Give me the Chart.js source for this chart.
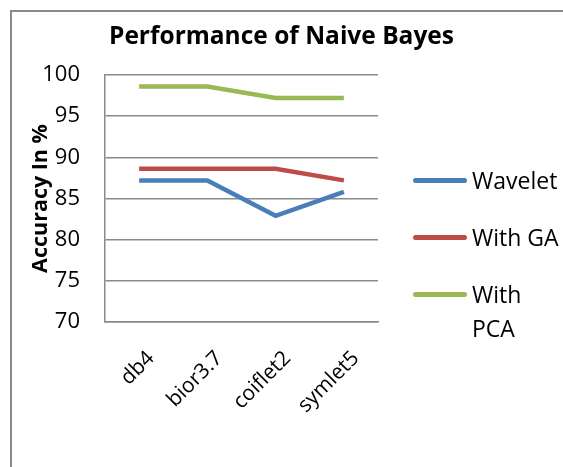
<!DOCTYPE html>
<html>
<head>
<meta charset="utf-8">
<script src="https://cdn.jsdelivr.net/npm/chart.js@4"></script>
<style>
  html, body { margin: 0; padding: 0; background: #fff; }
  #wrap { position: relative; width: 563px; height: 467px; overflow: hidden; font-family: "Open Sans", sans-serif; }
  #frame { position: absolute; left: 10px; top: 10px; width: 600px; height: 500px; border-left: 2px solid #8a8a8a; border-top: 2px solid #8a8a8a; }
  #chart { position: absolute; left: 0; top: 0; }
  #legend { position: absolute; left: 413px; top: 0; }
  .item { position: absolute; left: 0; width: 160px; }
  .swatch { position: absolute; left: 0; width: 54px; height: 5px; border-radius: 3px; }
  .label { position: absolute; left: 59px; font-size: 23px; line-height: 34px; color: #000; white-space: nowrap; }
</style>
</head>
<body>
<div id="wrap">
  <div id="frame"></div>
  <canvas id="chart" width="563" height="467"></canvas>
  <div id="legend"></div>
</div>
<script>
  // data
  const categories = ["db4", "bior3.7", "coiflet2", "symlet5"];
  const wavelet = [87.2, 87.2, 82.9, 85.8];
  const withGA = [88.6, 88.6, 88.6, 87.2];
  const withPCA = [98.6, 98.6, 97.2, 97.2];
  const seriesNames = ["Wavelet", "With GA", ["With", "PCA"]];
  const seriesColors = ["#4a7ebb", "#be4b48", "#98b954"];
  const yTicks = [70, 75, 80, 85, 90, 95, 100];

  const legendY = [180, 237, 294];

  function makeDataset(i, values) {
    return {
      label: [].concat(seriesNames[i]).join(" "),
      data: values,
      borderColor: seriesColors[i],
      backgroundColor: seriesColors[i],
      borderWidth: 4.5,
      pointRadius: 0,
      tension: 0,
      fill: false,
    };
  }

  const gridColor = "#8a8a8a";
  const font = "'Open Sans', sans-serif";

  new Chart(document.getElementById("chart").getContext("2d"), {
    type: "line",
    data: {
      labels: categories,
      datasets: [makeDataset(0, wavelet), makeDataset(1, withGA), makeDataset(2, withPCA)],
    },
    options: {
      responsive: false,
      animation: false,
      layout: { padding: 0 },
      plugins: {
        legend: { display: false },
        tooltip: { enabled: false },
        title: {
          display: true,
          text: "Performance of Naive Bayes",
          color: "#000",
          font: { family: font, size: 24.5, weight: "bold" },
          padding: { top: 22, bottom: 23.6 },
        },
      },
      scales: {
        x: {
          offset: true,
          grid: { display: false, drawTicks: false },
          border: { display: true, color: gridColor, width: 1.5 },
          ticks: {
            color: "#000",
            font: { family: font, size: 21 },
            minRotation: 45,
            maxRotation: 45,
            padding: 24,
            labelOffset: 12,
            autoSkip: false,
          },
          afterFit(scale) { scale.height = 145; },
        },
        y: {
          min: 70,
          max: 100,
          afterBuildTicks(scale) { scale.ticks = yTicks.map(v => ({ value: v })); },
          grid: { color: gridColor, lineWidth: 1.5, drawTicks: false },
          border: { display: true, color: gridColor, width: 1.5 },
          ticks: {
            color: "#000",
            font: { family: font, size: 22 },
            padding: 25,
          },
          title: {
            display: true,
            text: "Accuracy In %",
            color: "#000",
            font: { family: font, size: 21.5, weight: "bold" },
            padding: { top: 28, bottom: 0 },
          },
          afterFit(scale) { scale.width = 105; },
        },
        // empty right-hand axis that reserves the legend's room
        side: {
          position: "right",
          grid: { display: false, drawTicks: false },
          border: { display: false },
          ticks: { display: false },
          afterFit(scale) { scale.width = 185; },
        },
      },
    },
  });

  // legend built from the series arrays
  const legend = document.getElementById("legend");
  seriesNames.forEach((name, i) => {
    const item = document.createElement("div");
    item.className = "item";
    item.style.top = legendY[i] + "px";
    const sw = document.createElement("div");
    sw.className = "swatch";
    sw.style.background = seriesColors[i];
    sw.style.top = "-2.5px";
    const lab = document.createElement("div");
    lab.className = "label";
    lab.style.top = "-17px";
    lab.innerHTML = [].concat(name).join("<br>");
    item.appendChild(sw);
    item.appendChild(lab);
    legend.appendChild(item);
  });
</script>
</body>
</html>
